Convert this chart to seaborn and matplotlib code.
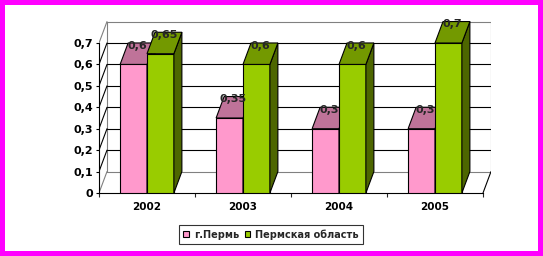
import matplotlib
matplotlib.use("Agg")
import matplotlib.pyplot as plt
from matplotlib.patches import Polygon, Rectangle, Patch
import seaborn as sns
import pandas as pd

# ---- data ----
years = ["2002", "2003", "2004", "2005"]
series_names = ["г.Пермь", "Пермская область"]
perm_city = [0.6, 0.35, 0.3, 0.3]
perm_region = [0.65, 0.6, 0.6, 0.7]
y_ticks = [0, 0.1, 0.2, 0.3, 0.4, 0.5, 0.6, 0.7]
y_tick_labels = ["0", "0,1", "0,2", "0,3", "0,4", "0,5", "0,6", "0,7"]

front_colors = ["#FF99CC", "#99CC00"]
top_colors = ["#BF7399", "#739900"]
side_colors = ["#7F4C66", "#4D6600"]

df = pd.DataFrame({
    "year": years * 2,
    "value": perm_city + perm_region,
    "series": [series_names[0]] * 4 + [series_names[1]] * 4,
})

sns.set_style("white")
plt.rcParams["font.family"] = ["DejaVu Sans"]
plt.rcParams["font.weight"] = "bold"

W, H = 543, 256
fig = plt.figure(figsize=(W / 100, H / 100), dpi=100)
fig.patch.set_facecolor("#FF00FF")
fig.patches.append(Rectangle((5 / W, 5 / H), 533 / W, 246 / H, transform=fig.transFigure,
                             facecolor="white", edgecolor="none", zorder=-10))

DX = 8 / 96.0   # depth offset in x data units
DY = 0.1        # depth offset in y data units
ymax = 0.85
ax = fig.add_axes([99 / W, 63 / H, (96 * (4 + DX)) / W, (ymax * 214.3) / H])
ax.set_facecolor("none")

sns.barplot(data=df, x="year", y="value", hue="series", hue_order=series_names,
            palette=front_colors, saturation=1, width=0.56, edgecolor="black",
            linewidth=0.8, legend=False, ax=ax, zorder=3)

ax.set_xlim(-0.5, 3.5 + DX)
ax.set_ylim(0, ymax)

gray = "#808080"
xl, xr = -0.5, 3.5
# back wall & floor edges
ax.plot([xl + DX, xl + DX], [DY, 0.7 + DY], color=gray, lw=0.8, zorder=1)
ax.plot([xr + DX, xr + DX], [DY, 0.7 + DY], color=gray, lw=0.8, zorder=1)
ax.plot([xl + DX, xr + DX], [0.7 + DY, 0.7 + DY], color=gray, lw=0.8, zorder=1)
ax.plot([xl + DX, xr + DX], [DY, DY], color=gray, lw=0.8, zorder=1)
ax.plot([xl, xl + DX], [0, DY], color=gray, lw=0.8, zorder=1)
ax.plot([xl, xl + DX], [0.7, 0.7 + DY], color=gray, lw=0.8, zorder=1)
ax.plot([xr, xr + DX], [0, DY], color="black", lw=0.8, zorder=1)
for v in y_ticks[1:-1]:
    ax.plot([xl + DX, xr + DX], [v + DY, v + DY], color="black", lw=0.8, zorder=1)
    ax.plot([xl, xl + DX], [v, v + DY], color="black", lw=0.8, zorder=1)

# 3D tops and sides
for j, cont in enumerate(ax.containers):
    for p in cont.patches:
        x0, w, h = p.get_x(), p.get_width(), p.get_height()
        z = 3 + j
        p.set_zorder(z)
        top = Polygon([(x0, h), (x0 + w, h), (x0 + w + DX, h + DY), (x0 + DX, h + DY)],
                      closed=True, facecolor=top_colors[j], edgecolor="black", lw=0.8,
                      zorder=z + 0.1)
        side = Polygon([(x0 + w, 0), (x0 + w + DX, DY), (x0 + w + DX, h + DY), (x0 + w, h)],
                       closed=True, facecolor=side_colors[j], edgecolor="black", lw=0.8,
                       zorder=z + 0.1)
        ax.add_patch(side)
        ax.add_patch(top)
        ax.text(x0 + w / 2 + DX / 2, h + DY - 0.012, f"{h:g}".replace(".", ","),
                ha="center", va="center", fontsize=8, fontweight="bold", zorder=10)

# axes
for s in ["top", "right"]:
    ax.spines[s].set_visible(False)
ax.spines["left"].set_bounds(0, 0.7)
ax.spines["bottom"].set_bounds(-0.5, 3.5)
for s in ["left", "bottom"]:
    ax.spines[s].set_color("black")
    ax.spines[s].set_linewidth(0.8)
    ax.spines[s].set_zorder(2)

ax.set_yticks(y_ticks)
ax.set_yticklabels(y_tick_labels, fontsize=8, fontweight="bold")
ax.tick_params(axis="y", direction="out", length=2.5, width=0.8, pad=2, colors="black", left=True)
ax.set_xticks(range(len(years)))
ax.set_xticklabels(years, fontsize=7.5, fontweight="bold")
ax.set_xticks([-0.5, 0.5, 1.5, 2.5, 3.5], minor=True)
ax.tick_params(axis="x", which="major", length=0, pad=6.5, colors="black")
ax.tick_params(axis="x", which="minor", direction="out", length=2.8, width=0.8, bottom=True)
ax.set_xlabel("")
ax.set_ylabel("")
ax.grid(False)

handles = [Patch(facecolor=c, edgecolor="black", linewidth=0.8) for c in front_colors]
leg = fig.legend(handles, series_names, loc="center", bbox_to_anchor=(271 / W, 1 - 234.5 / H),
                 ncol=2, frameon=True, fancybox=False, handlelength=0.55,
                 handleheight=0.55, handletextpad=0.5, columnspacing=0.6, borderpad=0.45,
                 prop={"weight": "bold", "size": 7})
leg.get_frame().set_edgecolor("black")
leg.get_frame().set_linewidth(0.8)

fig.savefig("out.png", dpi=100)
